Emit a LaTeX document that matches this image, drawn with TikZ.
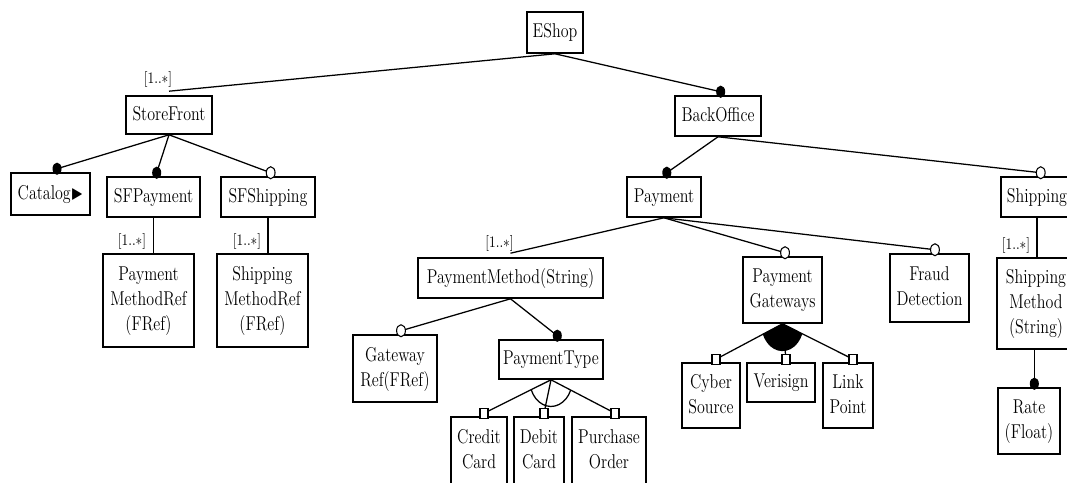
\documentclass[tikz,border=0pt]{standalone}
\usepackage{graphicx}
\usepackage{amssymb}
\usetikzlibrary{calc}

% box text: centred lines, stretched a little vertically
\newcommand\tx[1]{\scalebox{1}[1.25]{\begin{tabular}{@{}c@{}}#1\end{tabular}}}
\newcommand\card{\scalebox{1}[1.2]{[1..$\ast$]}}

% feature markers drawn at a named coordinate
\newcommand\mandot[1]{\fill (#1) ellipse [x radius=3.4pt, y radius=4.6pt];}
\newcommand\optdot[1]{\draw[line width=0.8pt, fill=white] (#1) ellipse [x radius=3.3pt, y radius=4.5pt];}
\newcommand\grpsq[1]{\draw[line width=0.8pt, fill=white] ($(#1)+(-3pt,-3.75pt)$) rectangle ($(#1)+(3pt,3.75pt)$);}

\begin{document}
\begin{tikzpicture}[x=0.75pt, y=-0.75pt,
  feat/.style={draw, line width=1.2pt, inner sep=0pt, font=\fontsize{12}{15}\selectfont},
  sz/.style 2 args={minimum width=#1*0.75pt, minimum height=#2*0.75pt},
  conn/.style={line width=0.95pt},
  cardlbl/.style={inner sep=0pt, font=\fontsize{10}{12}\selectfont}]

\useasboundingbox (0,0) rectangle (1067,482);
\clip (0,0) rectangle (1067,482);

% ---- features ----
\node[feat, sz={56}{41}] (eshop) at (555,32.5) {\tx{EShop}};
\node[feat, sz={86}{38}] (storefront) at (169,115) {\tx{StoreFront}};
\node[feat, sz={86}{40}] (backoffice) at (718,116) {\tx{BackOffice}};

\node[feat, sz={79}{42}] (catalog) at (50.5,194) {\tx{Catalog$\blacktriangleright$}};
\node[feat, sz={93}{40}] (sfpayment) at (153.5,197) {\tx{SFPayment}};
\node[feat, sz={94}{40}] (sfshipping) at (268,197) {\tx{SFShipping}};
\node[feat, sz={91}{93}] (pmref) at (148.5,300.5) {\tx{Payment\\MethodRef\\(FRef)}};
\node[feat, sz={91}{93}] (smref) at (262.5,300.5) {\tx{Shipping\\MethodRef\\(FRef)}};

\node[feat, sz={74}{40}] (payment) at (664,197) {\tx{Payment}};
\node[feat, sz={72}{40}] (shipping) at (1037,197) {\tx{Shipping}};

\node[feat, sz={185}{40}] (pmethod) at (510.5,278) {\tx{PaymentMethod(String)}};
\node[feat, sz={79}{66}] (pgw) at (782.5,290) {\tx{Payment\\Gateways}};
\node[feat, sz={79}{68}] (fraud) at (929.5,288) {\tx{Fraud\\Detection}};
\node[feat, sz={78}{91}] (smethod) at (1036,303.5) {\tx{Shipping\\Method\\(String)}};
\node[feat, sz={62}{66}] (rate) at (1029,421) {\tx{Rate\\(Float)}};

\node[feat, sz={84}{67}] (gwref) at (395,368.5) {\tx{Gateway\\Ref(FRef)}};
\node[feat, sz={104}{39}] (ptype) at (551,359.5) {\tx{PaymentType}};
\node[feat, sz={56}{68}] (credit) at (479,451) {\tx{Credit\\Card}};
\node[feat, sz={50}{68}] (debit) at (539,451) {\tx{Debit\\Card}};
\node[feat, sz={74}{68}] (purchase) at (609,451) {\tx{Purchase\\Order}};

\node[feat, sz={58}{65}] (cyber) at (711,395.5) {\tx{Cyber\\Source}};
\node[feat, sz={68}{39}] (verisign) at (781,382.5) {\tx{Verisign}};
\node[feat, sz={50}{65}] (linkpoint) at (848,395.5) {\tx{Link\\Point}};

% ---- cardinality labels ----
\node[cardlbl] (c-storefront) at (158,79.5) {\card};
\node[cardlbl] (c-pmref) at (132,241) {\card};
\node[cardlbl] (c-smref) at (247,241) {\card};
\node[cardlbl] (c-pmethod) at (499.5,243) {\card};
\node[cardlbl] (c-smethod) at (1016,245) {\card};

% ---- marker positions on top of child features ----
\coordinate (m-backoffice) at ([xshift=2pt,yshift=2.6pt]backoffice.north);
\coordinate (m-catalog) at ([xshift=4.9pt,yshift=2.6pt]catalog.north);
\coordinate (m-sfpayment) at ([xshift=2.4pt,yshift=2.6pt]sfpayment.north);
\coordinate (m-sfshipping) at ([xshift=2pt,yshift=2.6pt]sfshipping.north);
\coordinate (m-payment) at ([xshift=2.1pt,yshift=2.6pt]payment.north);
\coordinate (m-shipping) at ([xshift=2.8pt,yshift=2.6pt]shipping.north);
\coordinate (m-pgw) at ([xshift=1.9pt,yshift=2.6pt]pgw.north);
\coordinate (m-fraud) at ([xshift=4.1pt,yshift=2.6pt]fraud.north);
\coordinate (m-gwref) at ([xshift=4.5pt,yshift=2.6pt]gwref.north);
\coordinate (m-ptype) at ([xshift=4.7pt,yshift=2.6pt]ptype.north);
\coordinate (m-rate) at ([xshift=4pt,yshift=2.6pt]rate.north);
\coordinate (m-credit) at ([xshift=3.75pt,yshift=2.25pt]credit.north);
\coordinate (m-debit) at ([xshift=3.75pt,yshift=2.25pt]debit.north);
\coordinate (m-purchase) at ([xshift=4.5pt,yshift=2.25pt]purchase.north);
\coordinate (m-cyber) at ([xshift=3.75pt,yshift=2.25pt]cyber.north);
\coordinate (m-verisign) at ([xshift=3.75pt,yshift=2.25pt]verisign.north);
\coordinate (m-linkpoint) at ([xshift=3.75pt,yshift=2.25pt]linkpoint.north);

% ---- connectors ----
\draw[conn] (eshop.south) -- ([yshift=3pt]storefront.north);
\draw[conn] (eshop.south) -- (m-backoffice);

\draw[conn] (storefront.south) -- (m-catalog);
\draw[conn] (storefront.south) -- (m-sfpayment);
\draw[conn] (storefront.south) -- (m-sfshipping);
\draw[conn] (sfpayment.south) -- (sfpayment.south |- pmref.north);
\draw[conn] (sfshipping.south) -- (sfshipping.south |- smref.north);

\draw[conn] (backoffice.south) -- (m-payment);
\draw[conn] (backoffice.south) -- (m-shipping);

\draw[conn] (payment.south) -- ([yshift=3pt]pmethod.north);
\draw[conn] (payment.south) -- (m-pgw);
\draw[conn] (payment.south) -- (m-fraud);

\draw[conn] (shipping.south) -- (shipping.south |- smethod.north);
\draw[conn] (smethod.south -| m-rate) -- (m-rate);

\draw[conn] (pmethod.south) -- (m-gwref);
\draw[conn] (pmethod.south) -- (m-ptype);

\draw[conn] (ptype.south) -- (m-credit);
\draw[conn] (ptype.south) -- (m-debit);
\draw[conn] (ptype.south) -- (m-purchase);

\draw[conn] (pgw.south) -- (m-cyber);
\draw[conn] (pgw.south) -- (m-verisign);
\draw[conn] (pgw.south) -- (m-linkpoint);

% alternative group (open arc) and or group (filled sector)
\draw[conn] ([shift={(201.9:16pt and 20pt)}]ptype.south)
  arc[start angle=201.9, end angle=337.2, x radius=16pt, y radius=20pt];
\fill (pgw.south) -- ([shift={(201.8:16pt and 20.5pt)}]pgw.south)
  arc[start angle=201.8, end angle=338.7, x radius=16pt, y radius=20.5pt] -- cycle;

% ---- markers ----
\mandot{m-backoffice}
\mandot{m-catalog}
\mandot{m-sfpayment}
\mandot{m-payment}
\mandot{m-ptype}
\mandot{m-rate}
\optdot{m-sfshipping}
\optdot{m-shipping}
\optdot{m-pgw}
\optdot{m-fraud}
\optdot{m-gwref}
\grpsq{m-credit}
\grpsq{m-debit}
\grpsq{m-purchase}
\grpsq{m-cyber}
\grpsq{m-verisign}
\grpsq{m-linkpoint}
\end{tikzpicture}
\end{document}
